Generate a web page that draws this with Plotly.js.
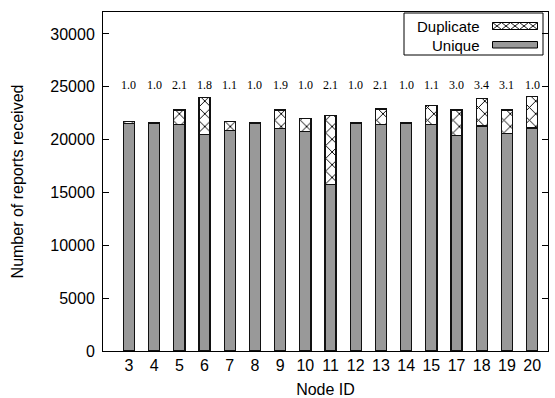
<!DOCTYPE html>
<html>
<head>
<meta charset="utf-8">
<script src="https://cdn.plot.ly/plotly-3.0.1.min.js"></script>
<style>html,body{margin:0;padding:0;background:#fff;}</style>
</head>
<body>
<div id="chart" style="width:555px;height:398px;"></div>
<script>
// ---- data ----
var nodes = ['3','4','5','6','7','8','9','10','11','12','13','14','15','17','18','19','20'];
var uniqueReports = [21550, 21550, 21450, 20500, 20850, 21550, 21050, 20800, 15750, 21500, 21450, 21500, 21450, 20400, 21300, 20550, 21100];
var duplicateReports = [150, 100, 1350, 3500, 900, 50, 1750, 1200, 6550, 150, 1450, 150, 1800, 2400, 2600, 2250, 3000];
var ratioLabels = ['1.0','1.0','2.1','1.8','1.1','1.0','1.9','1.0','2.1','1.0','2.1','1.0','1.1','3.0','3.4','3.1','1.0'];
var yTicks = [0, 5000, 10000, 15000, 20000, 25000, 30000];
var seriesNames = ['Unique', 'Duplicate'];
var ratioLabelLevel = 25200;

// ---- geometry helpers (pixel -> paper) ----
var W = 555, H = 398;
var M = {l: 103, r: 7, t: 12, b: 47};
var PW = W - M.l - M.r, PH = H - M.t - M.b;
function px(x) { return (x - M.l) / PW; }
function py(y) { return (H - M.b - y) / PH; }

var sans = 'Liberation Sans, Arial, Helvetica, sans-serif';
var serif = 'Liberation Serif, Times New Roman, serif';

var traces = [
  {
    type: 'bar', name: seriesNames[0], x: nodes, y: uniqueReports,
    width: 0.44,
    marker: {color: '#999999', line: {color: '#111111', width: 1.3}},
    showlegend: false, hoverinfo: 'x+y'
  },
  {
    type: 'bar', name: seriesNames[1], x: nodes, y: duplicateReports,
    width: 0.44,
    marker: {
      color: '#ffffff',
      line: {color: '#111111', width: 1.3},
      pattern: {shape: 'x', size: 9, solidity: 0.2, fgcolor: '#000000', bgcolor: '#ffffff'}
    },
    showlegend: false, hoverinfo: 'x+y'
  }
];

var annotations = nodes.map(function (n, i) {
  return {
    x: i, y: ratioLabelLevel, xref: 'x', yref: 'y', text: ratioLabels[i],
    xanchor: 'center', yanchor: 'middle',
    showarrow: false, font: {family: serif, size: 12, color: '#000'}
  };
});

// custom legend (text left, sample right, gnuplot style)
annotations.push({
  xref: 'paper', yref: 'paper', x: px(482), y: py(26), xanchor: 'right', yanchor: 'middle',
  text: seriesNames[1], showarrow: false, font: {family: sans, size: 15, color: '#000'}
});
annotations.push({
  xref: 'paper', yref: 'paper', x: px(482), y: py(45), xanchor: 'right', yanchor: 'middle',
  text: seriesNames[0], showarrow: false, font: {family: sans, size: 15, color: '#000'}
});

function crossPath(x0, x1, y0, y1, n) {
  var step = (x1 - x0) / n, d = '';
  for (var i = 0; i < n; i++) {
    var a = x0 + i * step, b = a + step;
    d += 'M' + px(a) + ',' + py(y0) + 'L' + px(b) + ',' + py(y1) + ' ';
    d += 'M' + px(a) + ',' + py(y1) + 'L' + px(b) + ',' + py(y0) + ' ';
  }
  return d;
}

var shapes = [
  {type: 'rect', xref: 'paper', yref: 'paper', x0: px(404), x1: px(543), y0: py(13), y1: py(55),
   line: {color: '#000', width: 1}, fillcolor: 'rgba(255,255,255,0)'},
  {type: 'rect', xref: 'paper', yref: 'paper', x0: px(492.5), x1: px(537.5), y0: py(22.5), y1: py(29.5),
   line: {color: '#000', width: 1}, fillcolor: '#ffffff'},
  {type: 'path', xref: 'paper', yref: 'paper', path: crossPath(492.5, 537.5, 22.5, 29.5, 5),
   line: {color: '#000', width: 0.9}},
  {type: 'rect', xref: 'paper', yref: 'paper', x0: px(492.5), x1: px(537.5), y0: py(41.5), y1: py(48),
   line: {color: '#000', width: 1}, fillcolor: '#999999'}
];

var layout = {
  width: W, height: H,
  margin: M,
  paper_bgcolor: '#fff', plot_bgcolor: '#fff',
  barmode: 'stack',
  showlegend: false,
  font: {family: sans, size: 16, color: '#000'},
  xaxis: {
    type: 'category',
    range: [-1.03, 16.63],
    showline: true, linecolor: '#000', linewidth: 1, mirror: true,
    ticks: '', showgrid: false, zeroline: false,
    tickfont: {family: sans, size: 16, color: '#000'},
    title: {text: 'Node ID', font: {family: sans, size: 16, color: '#000'}, standoff: 10}
  },
  yaxis: {
    range: [0, 32080],
    tickvals: yTicks, ticktext: yTicks.map(String),
    showline: true, linecolor: '#000', linewidth: 1, mirror: 'ticks',
    ticks: 'inside', ticklen: 6, tickcolor: '#000', tickwidth: 1,
    showgrid: false, zeroline: false,
    tickfont: {family: sans, size: 16, color: '#000'},
    ticklabelstandoff: 4,
    title: {text: 'Number of reports received', font: {family: sans, size: 16, color: '#000'}, standoff: 22}
  },
  annotations: annotations,
  shapes: shapes
};

Plotly.newPlot('chart', traces, layout, {displayModeBar: false, staticPlot: true});
</script>
</body>
</html>
